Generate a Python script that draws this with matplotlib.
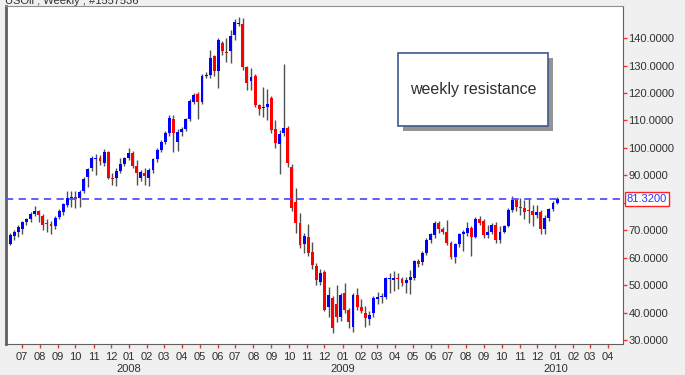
import matplotlib
matplotlib.use('Agg')
import matplotlib.pyplot as plt
import matplotlib.dates as mdates
from matplotlib.patches import Rectangle
from matplotlib.transforms import blended_transform_factory
import pandas as pd

plt.rcParams['font.family'] = ['Liberation Sans', 'DejaVu Sans']

# weekly bars, Jun 2007 - Jan 2010
dates = pd.date_range('2007-06-11', periods=135, freq='7D')

opens = [65.0, 67.9, 69.3, 70.4, 73.0, 74.1, 75.9, 77.0, 75.2, 72.4,
         72.3, 71.5, 74.8, 76.6, 79.2, 81.6, 82.1, 81.7, 84.3, 89.3,
         92.5, 96.1, 96.4, 94.3, 98.6, 89.1, 88.9, 91.7, 94.0, 96.2,
         98.2, 93.4, 88.9, 91.0, 88.9, 91.9, 95.8, 99.2, 102.2, 105.5,
         110.4, 102.2, 105.6, 106.7, 110.4, 116.8, 119.5, 116.8, 126.3, 126.6,
         133.5, 128.0, 138.3, 134.9, 135.3, 141.1, 145.3, 145.1, 129.3, 124.2,
         126.2, 115.6, 114.7, 115.0, 118.3, 106.7, 101.4, 105.5, 107.2, 93.2,
         80.4, 72.5, 65.0, 67.6, 61.9, 57.0, 51.2, 54.9, 42.1, 45.2,
         43.1, 38.5, 47.2, 41.0, 34.8, 46.4, 42.1, 40.0, 37.5, 39.7,
         44.8, 45.7, 45.8, 52.3, 52.0, 52.4, 52.1, 50.9, 51.9, 52.7,
         58.8, 58.5, 61.8, 66.4, 68.3, 72.8, 70.3, 69.5, 65.5, 60.1,
         64.8, 68.5, 69.1, 70.9, 67.6, 74.0, 73.2, 68.3, 69.5, 71.9,
         66.4, 69.5, 71.5, 77.3, 81.0, 78.6, 78.0, 77.1, 77.0, 75.5,
         76.8, 70.3, 74.5, 77.6, 80.0]

closes = [68.3, 69.5, 71.2, 73.0, 74.1, 75.9, 77.0, 75.5, 71.9, 72.2,
          71.5, 74.4, 77.0, 79.5, 81.7, 81.8, 81.4, 83.9, 88.6, 92.3,
          96.4, 96.3, 95.2, 98.6, 89.1, 88.5, 91.7, 94.1, 96.2, 98.2,
          93.4, 90.7, 91.3, 89.6, 91.9, 95.8, 99.2, 102.2, 105.5, 110.8,
          105.5, 105.9, 106.7, 110.4, 117.2, 119.2, 116.8, 126.2, 126.5, 132.6,
          128.0, 139.3, 135.3, 134.7, 140.6, 146.0, 145.6, 129.3, 123.8, 125.7,
          115.6, 114.2, 114.9, 116.0, 106.5, 101.9, 105.1, 107.2, 94.4, 78.0,
          72.5, 64.6, 68.0, 61.6, 57.3, 51.9, 54.3, 41.0, 46.4, 34.3,
          38.3, 46.4, 41.0, 36.7, 46.4, 42.1, 40.7, 37.9, 39.1, 45.2,
          45.8, 45.9, 52.5, 52.5, 52.5, 52.2, 50.9, 51.9, 52.8, 58.8,
          57.6, 61.8, 66.4, 68.5, 72.8, 70.3, 69.5, 65.5, 60.1, 64.8,
          68.5, 69.5, 70.9, 67.6, 74.0, 72.8, 68.3, 69.5, 71.9, 66.4,
          69.5, 71.5, 77.3, 81.0, 78.6, 78.0, 76.8, 76.9, 75.5, 76.8,
          70.3, 74.5, 77.6, 80.0, 81.32]

highs = [68.8, 70.2, 71.8, 73.5, 74.6, 76.5, 78.8, 77.5, 75.8, 74.0,
         73.5, 75.0, 77.6, 80.0, 84.3, 84.3, 84.3, 84.5, 89.2, 92.8,
         97.0, 97.8, 97.5, 99.5, 99.0, 91.0, 92.5, 96.3, 96.8, 99.8,
         99.0, 95.5, 92.0, 92.5, 92.5, 96.3, 99.8, 102.8, 106.0, 112.0,
         112.0, 106.8, 107.5, 111.0, 117.8, 120.0, 120.5, 127.0, 127.5, 135.6,
         134.0, 140.0, 139.0, 140.0, 143.0, 147.0, 147.8, 147.4, 130.0, 129.0,
         127.0, 116.0, 122.3, 121.5, 119.0, 110.0, 106.5, 130.4, 107.8, 94.0,
         85.4, 76.3, 69.0, 72.3, 65.8, 58.0, 56.0, 55.5, 49.4, 46.0,
         50.0, 47.0, 50.8, 41.5, 47.0, 48.9, 45.0, 42.5, 40.5, 46.0,
         47.5, 47.0, 53.0, 54.4, 55.0, 54.5, 53.0, 53.0, 55.5, 59.3,
         59.5, 62.3, 67.0, 69.0, 73.5, 73.2, 71.0, 73.7, 66.0, 65.5,
         69.0, 70.0, 73.1, 71.5, 74.9, 75.0, 74.0, 72.0, 72.5, 73.0,
         71.5, 72.0, 78.0, 82.5, 81.5, 81.7, 81.0, 81.7, 79.0, 79.0,
         77.2, 75.5, 78.0, 80.5, 82.0]

lows = [64.5, 66.5, 67.5, 68.5, 72.0, 73.0, 75.0, 73.1, 70.0, 69.5,
        68.6, 70.5, 74.0, 75.5, 78.5, 78.6, 78.0, 78.3, 83.5, 85.8,
        91.5, 90.0, 93.8, 93.5, 88.5, 86.5, 86.0, 91.0, 93.5, 95.5,
        92.5, 86.5, 88.0, 86.5, 86.2, 91.0, 95.0, 98.5, 101.5, 104.5,
        98.6, 99.0, 104.5, 106.0, 109.8, 116.0, 110.4, 116.0, 125.5, 125.5,
        126.0, 121.9, 134.0, 131.3, 130.8, 139.3, 144.5, 128.5, 121.0, 121.0,
        115.0, 112.0, 111.3, 110.0, 105.5, 100.0, 90.4, 104.5, 93.0, 77.0,
        69.0, 63.5, 61.7, 60.5, 56.0, 50.0, 50.0, 40.5, 38.5, 32.5,
        36.5, 37.0, 40.0, 34.5, 33.0, 41.0, 40.0, 34.8, 35.5, 38.5,
        43.0, 43.5, 45.0, 47.1, 48.0, 48.5, 49.5, 47.1, 46.8, 52.0,
        56.5, 57.5, 61.0, 65.5, 67.0, 69.0, 68.5, 64.5, 59.5, 58.2,
        64.0, 62.4, 68.0, 60.6, 67.0, 72.0, 67.0, 67.0, 68.5, 65.5,
        65.5, 69.0, 71.0, 76.8, 77.0, 75.5, 74.0, 72.6, 71.5, 74.5,
        68.5, 68.6, 73.5, 77.0, 79.5]

resistance = 81.32
y_ticks = [30, 40, 50, 60, 70, 80, 90, 100, 110, 120, 130, 140]

fig = plt.figure(figsize=(6.85, 3.75), dpi=100, facecolor='#f0f0f0')
ax = fig.add_axes([5.5 / 685, 1 - 344 / 375, 617.5 / 685, 338 / 375])
ax.set_facecolor('white')

x = mdates.date2num(dates)
for xi, o, c, h, l in zip(x, opens, closes, highs, lows):
    col = '#0000ff' if c >= o else '#ff0000'
    ax.vlines(xi, l, h, color='#505050', lw=1.0, zorder=2)
    lo, hi = min(o, c), max(o, c)
    ax.bar(xi, max(hi - lo, 0.35), bottom=lo, width=5.0, color=col,
           edgecolor='none', zorder=3)

ax.axhline(resistance, color='#5050ff', lw=1.3, dashes=(4, 3), zorder=4)

ax.set_xlim(mdates.datestr2num('2007-06-03'), mdates.datestr2num('2010-04-27'))
ax.set_ylim(28.54, 151.68)

ax.yaxis.tick_right()
ax.set_yticks(y_ticks)
ax.set_yticklabels([f'{v:.4f}' for v in y_ticks])
ax.tick_params(axis='y', colors='#ff3030', labelcolor='#303030', labelsize=8,
               length=3, width=1, pad=1, direction='out')

ax.xaxis.set_major_locator(mdates.MonthLocator())
ax.xaxis.set_major_formatter(mdates.DateFormatter('%m'))
ax.tick_params(axis='x', colors='#ff3030', labelcolor='#303030', labelsize=8,
               length=3, width=1, pad=3, direction='out')

trans = blended_transform_factory(ax.transData, ax.transAxes)
for yr in ['2008', '2009', '2010']:
    ax.text(mdates.datestr2num(yr + '-01-01'), -0.075, yr, transform=trans,
            ha='center', va='center', fontsize=8, color='#303030')

for side in ['left', 'right', 'top', 'bottom']:
    ax.spines[side].set_color('#606060')
ax.spines['left'].set_linewidth(2)
ax.spines['top'].set_color('#909090')

# price label for the resistance level
ytrans = blended_transform_factory(ax.transAxes, ax.transData)
ax.text(1.006, resistance, f'{resistance:.4f}', transform=ytrans, ha='left',
        va='center', fontsize=8, color='#3030ff', zorder=10, clip_on=False,
        bbox=dict(boxstyle='square,pad=0.15', fc='white', ec='#ff2020', lw=1))

# annotation box with drop shadow
bx, by, bw, bh = 398 / 685, 1 - 126 / 375, 150 / 685, 73 / 375
fig.patches.append(Rectangle((bx + 5 / 685, by - 5 / 375), bw, bh,
                             transform=fig.transFigure, fc='#7a7a7a',
                             ec='none', alpha=0.8, zorder=5))
fig.patches.append(Rectangle((bx, by), bw, bh, transform=fig.transFigure,
                             fc='white', ec='#3c5a8c', lw=1.2, zorder=6))
fig.text(bx + bw / 2, by + bh / 2, 'weekly resistance', ha='center',
         va='center', fontsize=11.5, color='#303030', zorder=7)

fig.text(0.008, 0.998, 'USOil , Weekly , #1557536', ha='left', va='center',
         fontsize=8, color='#303030')

fig.savefig('out.png', dpi=100, facecolor=fig.get_facecolor())
